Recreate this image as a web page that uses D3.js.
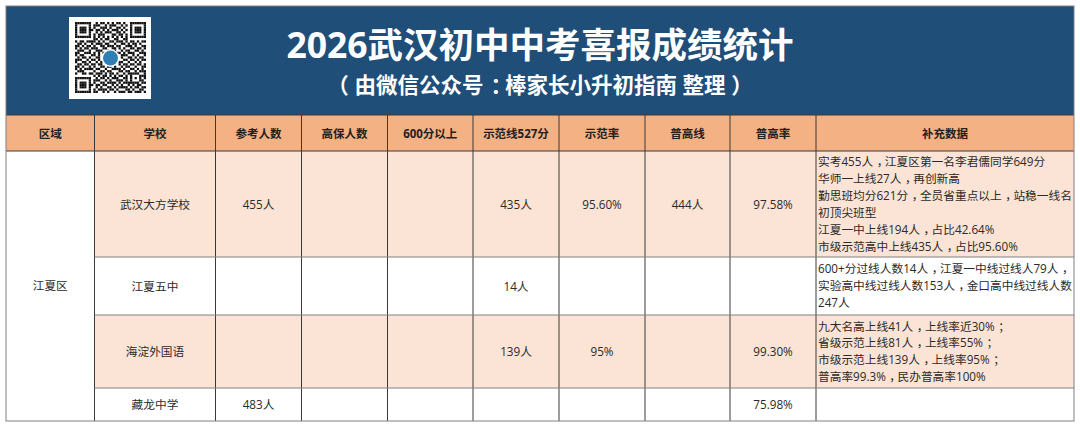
<!DOCTYPE html>
<html>
<head>
<meta charset="utf-8">
<script src="https://cdn.jsdelivr.net/npm/d3@7"></script>
<style>
html, body { margin: 0; padding: 0; background: #fff; }
svg { display: block; font-family: "Open Sans", "Noto Sans CJK SC", sans-serif; }
</style>
</head>
<body>
<div id="chart"></div>
<script>
const title = "2026武汉初中中考喜报成绩统计";
const subtitle = "（ 由微信公众号：棒家长小升初指南 整理 ）";
const headers = ["区域", "学校", "参考人数", "高保人数", "600分以上", "示范线527分", "示范率", "普高线", "普高率", "补充数据"];
const district = "江夏区";
const schools = ["武汉大方学校", "江夏五中", "海淀外国语", "藏龙中学"];
const examinees = ["455人", "", "", "483人"];
const highGuarantee = ["", "", "", ""];
const over600 = ["", "", "", ""];
const modelLine = ["435人", "14人", "139人", ""];
const modelRate = ["95.60%", "", "95%", ""];
const generalLine = ["444人", "", "", ""];
const generalRate = ["97.58%", "", "99.30%", "75.98%"];
const notes = [
  ["实考455人，江夏区第一名李君儒同学649分", "华师一上线27人，再创新高", "勤思班均分621分，全员省重点以上，站稳一线名", "初顶尖班型", "江夏一中上线194人，占比42.64%", "市级示范高中上线435人，占比95.60%"],
  ["600+分过线人数14人，江夏一中线过线人79人，", "实验高中线过线人数153人，金口高中线过线人数", "247人"],
  ["九大名高上线41人，上线率近30%；", "省级示范上线81人，上线率55%；", "市级示范上线139人，上线率95%；", "普高率99.3%，民办普高率100%"],
  []
];
const columnEdges = [6, 94.5, 215.5, 301.5, 387.5, 473, 559, 645, 730, 816, 1074];
const rowEdges = [151, 257, 315, 388, 421];
const qrRows = [
  "1111111001011010101101001111111",
  "1000001011100101110010101000001",
  "1011101010011101001101001011101",
  "1011101101101010111010101011101",
  "1011101001010111001101001011101",
  "1000001010111000110110101000001",
  "1111111010101010101010101111111",
  "0000000011010110011001100000000",
  "1011011110101001101110101101011",
  "0110100101110110010011010110100",
  "1101011010011011101100111010011",
  "1010110111001100110101001101101",
  "0111001001110011010010110011010",
  "1100111010101100001101011100111",
  "1011000110100000000011100101001",
  "0101101001100000000010011010110",
  "1110010110100000000001101101011",
  "1001101001010000000110010010100",
  "0110110110110000000101101101101",
  "1101001010011011010010110010011",
  "1010111101100100111101001101010",
  "0111000010011011000110110010111",
  "1001101101110101101001011111001",
  "0000000010101101010110101000111",
  "1111111001011010111001101010101",
  "1000001011100101001110101000110",
  "1011101010011011110101111111011",
  "1011101101101100101010010101100",
  "1011101001010011010111101011011",
  "1000001010111101101000110100110",
  "1111111011001010010111011011101"
];

const width = 1080, height = 427;
const svg = d3.select("#chart").append("svg").attr("width", width).attr("height", height);
const shaded = "#fbe4d5", headFill = "#f4b183", lineDark = "#3a3a3a", lineGrey = "#808080", ink = "#2a2a2a";

// the reference font centres full-width punctuation in its cell, so nudge it over
function punctuated(sel, str, nudge) {
  str.split(/([，；：])/).filter(p => p !== "").forEach(part => {
    const t = sel.append("tspan").text(part);
    if (/^[，；：]$/.test(part)) t.attr("dx", nudge).style("letter-spacing", `${-nudge}px`);
  });
  return sel;
}

// banner
svg.append("rect").attr("x", 6).attr("y", 6).attr("width", 1068).attr("height", 109).attr("fill", "#1f4e79");
svg.append("text").attr("x", 540).attr("y", 58).attr("text-anchor", "middle").attr("fill", "#fff")
  .style("font-size", "35.5px").style("font-weight", "700").text(title);
punctuated(svg.append("text").attr("x", 540).attr("y", 93).attr("text-anchor", "middle").attr("fill", "#fff")
  .style("font-size", "21.5px").style("font-weight", "700"), subtitle, 7);

// qr block
svg.append("rect").attr("x", 69).attr("y", 17).attr("width", 82).attr("height", 82).attr("fill", "#fff");
const qrX = d3.scaleBand().domain(d3.range(31)).range([75, 146]);
const qrY = d3.scaleBand().domain(d3.range(31)).range([22, 93]);
qrRows.forEach((row, r) => {
  svg.append("g").selectAll("rect").data(row.split("").map((v, c) => ({ v, c })).filter(d => d.v === "1")).enter()
    .append("rect").attr("x", d => qrX(d.c)).attr("y", qrY(r))
    .attr("width", qrX.bandwidth()).attr("height", qrY.bandwidth()).attr("fill", "#111");
});
svg.append("circle").attr("cx", 110.5).attr("cy", 58).attr("r", 9).attr("fill", "#fff");
svg.append("circle").attr("cx", 110.5).attr("cy", 58).attr("r", 7.5).attr("fill", "#2f7fb5");

// header row
svg.append("rect").attr("x", 6).attr("y", 115).attr("width", 1068).attr("height", 36).attr("fill", headFill);
headers.forEach((h, i) => {
  svg.append("text").attr("x", (columnEdges[i] + columnEdges[i + 1]) / 2).attr("y", 137.5)
    .attr("text-anchor", "middle").attr("fill", "#222").style("font-size", "11.5px").style("font-weight", "700").text(h);
});

// body rows
schools.forEach((s, r) => {
  const y0 = rowEdges[r], y1 = rowEdges[r + 1], cy = (y0 + y1) / 2 + 4.5;
  if (r % 2 === 0) {
    svg.append("rect").attr("x", columnEdges[1]).attr("y", y0).attr("width", 1074 - columnEdges[1]).attr("height", y1 - y0).attr("fill", shaded);
  }
  const cells = [s, examinees[r], highGuarantee[r], over600[r], modelLine[r], modelRate[r], generalLine[r], generalRate[r]];
  cells.forEach((c, i) => {
    svg.append("text").attr("x", (columnEdges[i + 1] + columnEdges[i + 2]) / 2).attr("y", cy)
      .attr("text-anchor", "middle").attr("fill", ink).style("font-size", "11.7px").text(c);
  });
  const lh = 16.9, top = (y0 + y1) / 2 - (notes[r].length * lh) / 2 + 12.8;
  notes[r].forEach((line, k) => {
    punctuated(svg.append("text").attr("x", 818).attr("y", top + k * lh).attr("fill", ink).style("font-size", "11.7px"), line, 3.5);
  });
});
svg.append("text").attr("x", (columnEdges[0] + columnEdges[1]) / 2).attr("y", 290)
  .attr("text-anchor", "middle").attr("fill", ink).style("font-size", "11.7px").text(district);

// grid lines
columnEdges.slice(1, -1).forEach(x => {
  svg.append("line").attr("x1", x).attr("x2", x).attr("y1", 115).attr("y2", 421).attr("stroke", lineDark).attr("stroke-width", 1);
});
[115, 151].forEach(y => {
  svg.append("line").attr("x1", 6).attr("x2", 1074).attr("y1", y).attr("y2", y).attr("stroke", lineDark).attr("stroke-width", 1);
});
rowEdges.slice(1, -1).forEach(y => {
  svg.append("line").attr("x1", 94.5).attr("x2", 1074).attr("y1", y).attr("y2", y).attr("stroke", lineGrey).attr("stroke-width", 1);
});
svg.append("rect").attr("x", 6).attr("y", 6).attr("width", 1068).attr("height", 415).attr("fill", "none").attr("stroke", lineGrey).attr("stroke-width", 1);
</script>
</body>
</html>
